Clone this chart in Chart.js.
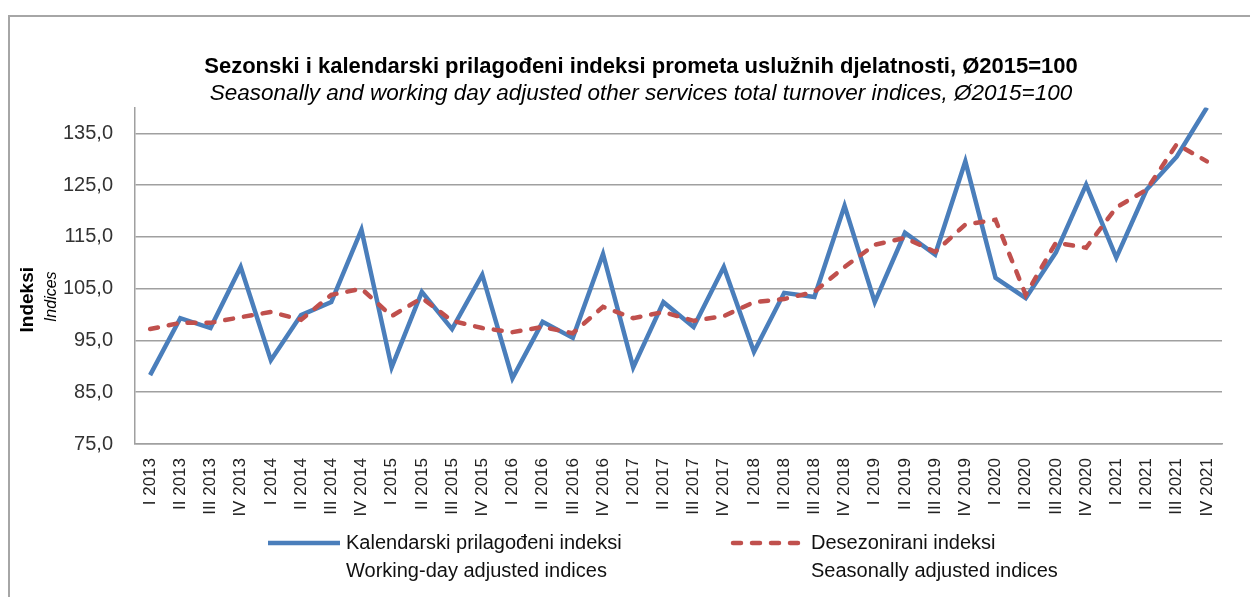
<!DOCTYPE html>
<html>
<head>
<meta charset="utf-8">
<title>Indeksi prometa uslužnih djelatnosti</title>
<script src="https://cdn.jsdelivr.net/npm/chart.js@4.4.0/dist/chart.umd.min.js"></script>
<style>
    html, body { margin: 0; padding: 0; background: #fff; }
    #wrap { position: relative; width: 1250px; height: 597px; }
</style>
</head>
<body>
<div id="wrap"><canvas id="turnoverChart" width="1250" height="597"></canvas></div>
<script>
const categories = [
    'I 2013', 'II 2013', 'III 2013', 'IV 2013',
    'I 2014', 'II 2014', 'III 2014', 'IV 2014',
    'I 2015', 'II 2015', 'III 2015', 'IV 2015',
    'I 2016', 'II 2016', 'III 2016', 'IV 2016',
    'I 2017', 'II 2017', 'III 2017', 'IV 2017',
    'I 2018', 'II 2018', 'III 2018', 'IV 2018',
    'I 2019', 'II 2019', 'III 2019', 'IV 2019',
    'I 2020', 'II 2020', 'III 2020', 'IV 2020',
    'I 2021', 'II 2021', 'III 2021', 'IV 2021'
];

// Kalendarski prilagođeni indeksi (working-day adjusted)
const workingDayAdjusted = [
    88.3, 99.3, 97.4, 109.2,
    91.2, 99.9, 102.4, 116.4,
    89.8, 104.4, 97.2, 107.7,
    87.7, 98.6, 95.5, 111.7,
    89.8, 102.4, 97.6, 109.2,
    92.8, 104.2, 103.4, 121.0,
    102.4, 115.8, 111.6, 129.6,
    107.1, 103.2, 112.0, 125.1,
    111.0, 124.1, 130.5, 140.0
];

// Desezonirani indeksi (seasonally adjusted)
const seasonallyAdjusted = [
    97.2, 98.4, 98.4, 99.5,
    100.5, 99.0, 103.8, 105.0,
    99.7, 103.2, 98.8, 97.4,
    96.6, 97.6, 96.4, 101.5,
    99.3, 100.5, 98.8, 99.7,
    102.4, 103.0, 104.4, 109.2,
    113.5, 114.8, 112.1, 117.4,
    118.3, 103.8, 113.9, 112.9,
    120.7, 124.1, 132.9, 129.6
];

const yTicks = [75, 85, 95, 105, 115, 125, 135];

const seriesLabels = ['Kalendarski prilagođeni indeksi', 'Desezonirani indeksi'];
const seriesLabelsEn = ['Working-day adjusted indices', 'Seasonally adjusted indices'];

const fontFamily = "'Liberation Sans', Arial, sans-serif";

const frame = {
    id: 'frame',
    beforeDraw(chart) {
        const ctx = chart.ctx;
        ctx.save();
        ctx.strokeStyle = '#a6a6a6';
        ctx.lineWidth = 2;
        ctx.beginPath();
        ctx.moveTo(9, chart.height);
        ctx.lineTo(9, 16);
        ctx.lineTo(chart.width, 16);
        ctx.stroke();
        ctx.restore();
    }
};

const yAxisTitle = {
    id: 'yAxisTitle',
    afterDraw(chart) {
        const ctx = chart.ctx;
        const cy = (chart.chartArea.top + chart.chartArea.bottom) / 2 + 24;
        ctx.save();
        ctx.fillStyle = '#000';
        ctx.textAlign = 'center';
        ctx.textBaseline = 'middle';
        ctx.translate(28, cy);
        ctx.rotate(-Math.PI / 2);
        ctx.font = 'bold 19px ' + fontFamily;
        ctx.fillText('Indeksi', 0, 0);
        ctx.font = 'italic 16px ' + fontFamily;
        ctx.fillText('Indices', 3, 24);
        ctx.restore();
    }
};

const bottomLegend = {
    id: 'bottomLegend',
    afterDraw(chart, args, opts) {
        const ctx = chart.ctx;
        ctx.save();
        chart.data.datasets.forEach((ds, i) => {
            const x = opts.starts[i];
            const y = opts.top;
            ctx.strokeStyle = ds.borderColor;
            ctx.lineWidth = ds.borderWidth;
            ctx.lineCap = ds.borderCapStyle || 'butt';
            ctx.setLineDash(ds.borderDash || []);
            ctx.beginPath();
            ctx.moveTo(x, y);
            ctx.lineTo(x + opts.sampleWidth, y);
            ctx.stroke();
            ctx.setLineDash([]);
            ctx.fillStyle = '#111';
            ctx.textAlign = 'left';
            ctx.textBaseline = 'middle';
            ctx.font = opts.fontSize + 'px ' + fontFamily;
            ctx.fillText(seriesLabels[i], x + opts.sampleWidth + 6, y);
            ctx.fillText(seriesLabelsEn[i], x + opts.sampleWidth + 6, y + opts.lineGap);
        });
        ctx.restore();
    }
};

function renderChart() {
    const canvas = document.getElementById('turnoverChart');
    if (!canvas) return;

    new Chart(canvas, {
        type: 'line',
        data: {
            labels: categories,
            datasets: [
                {
                    label: seriesLabels[0],
                    data: workingDayAdjusted,
                    borderColor: '#4a7ebb',
                    borderWidth: 4.5,
                    pointRadius: 0,
                    tension: 0,
                    fill: false,
                    order: 1
                },
                {
                    label: seriesLabels[1],
                    data: seasonallyAdjusted,
                    borderColor: '#c0504d',
                    borderWidth: 4.5,
                    borderDash: [8, 11],
                    borderCapStyle: 'round',
                    pointRadius: 0,
                    tension: 0,
                    fill: false,
                    order: 0
                }
            ]
        },
        options: {
            responsive: false,
            animation: false,
            layout: { padding: { left: 60, right: 28, top: 0, bottom: 73 } },
            plugins: {
                legend: { display: false },
                tooltip: { enabled: false },
                title: {
                    display: true,
                    text: 'Sezonski i kalendarski prilagođeni indeksi prometa uslužnih djelatnosti, Ø2015=100',
                    color: '#000',
                    font: { family: fontFamily, size: 22, weight: 'bold', lineHeight: 1.1 },
                    padding: { top: 55, bottom: 0 }
                },
                subtitle: {
                    display: true,
                    text: 'Seasonally and working day adjusted other services total turnover indices, Ø2015=100',
                    color: '#000',
                    font: { family: fontFamily, size: 22.5, style: 'italic' },
                    padding: { top: 1.3, bottom: 0 }
                },
                bottomLegend: { starts: [268, 733], top: 543, sampleWidth: 72, lineGap: 28, fontSize: 20 }
            },
            scales: {
                x: {
                    offset: true,
                    afterFit: scale => { scale.height = 80; },
                    grid: { drawOnChartArea: false, drawTicks: false },
                    border: { display: true, color: '#a0a0a0', width: 1.5 },
                    ticks: {
                        autoSkip: false,
                        minRotation: 90,
                        maxRotation: 90,
                        padding: 14,
                        color: '#222',
                        font: { family: fontFamily, size: 17 }
                    }
                },
                y: {
                    min: 75,
                    max: 140,
                    afterFit: scale => { scale.width = 75; },
                    afterBuildTicks: scale => { scale.ticks = yTicks.map(v => ({ value: v })); },
                    grid: { color: '#a0a0a0', lineWidth: 1.5, drawTicks: false },
                    border: { display: true, color: '#a0a0a0', width: 1.5 },
                    ticks: {
                        padding: 22,
                        color: '#333',
                        font: { family: fontFamily, size: 20 },
                        callback: v => v.toFixed(1).replace('.', ',')
                    }
                }
            }
        },
        plugins: [frame, yAxisTitle, bottomLegend]
    });
}

document.addEventListener('DOMContentLoaded', renderChart);
</script>
</body>
</html>
